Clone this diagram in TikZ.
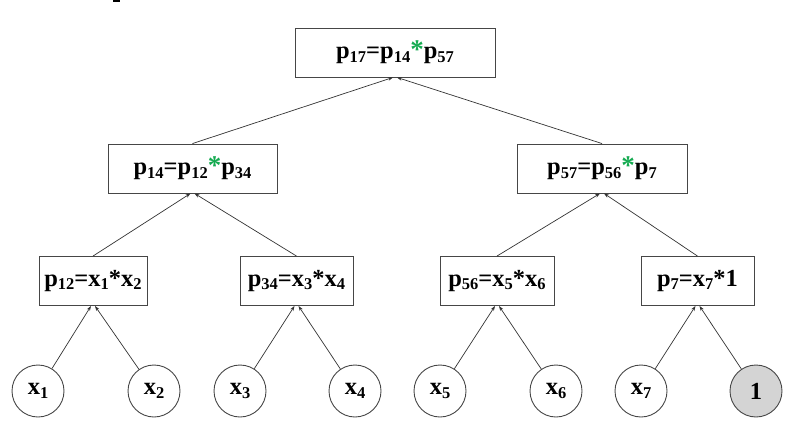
\documentclass[tikz,border=0pt]{standalone}
\usepackage{fontspec}
\setmainfont{Liberation Serif}
\usetikzlibrary{arrows.meta}
\definecolor{stargreen}{RGB}{20,170,80}
\definecolor{leafgray}{RGB}{212,212,212}
\definecolor{edgegray}{RGB}{70,70,70}
\newcommand\sbs[1]{\raisebox{-0.3ex}{\fontsize{16.5}{16.5}\selectfont\bfseries #1}}
\newcommand\gstar{\textcolor{stargreen}{\fontsize{27}{27}\selectfont *}}
\tikzset{
  prodbox/.style={draw=edgegray, line width=0.9pt, minimum height=49pt, inner sep=0pt,
    font=\fontsize{24.5}{28}\selectfont\bfseries},
  leaf/.style={draw=edgegray, line width=0.9pt, circle, minimum size=52pt, inner sep=0pt,
    font=\fontsize{24.5}{28}\selectfont\bfseries},
  link/.style={draw=black!80, line width=0.7pt, -{Stealth[length=5pt,width=3.5pt]}}
}
\begin{document}
\begin{tikzpicture}[x=1pt,y=-1pt]
\useasboundingbox (0,0) rectangle (789,444);
\fill (113,0) rectangle (120,2);
% boxes
\node[prodbox, minimum width=200pt] (p17) at (395,52.5) {p\sbs{17}=p\sbs{14}\gstar p\sbs{57}};
\node[prodbox, minimum width=169pt] (p14) at (192.5,168.5) {p\sbs{14}=p\sbs{12}\gstar p\sbs{34}};
\node[prodbox, minimum width=170pt] (p57) at (602,168.5) {p\sbs{57}=p\sbs{56}\gstar p\sbs{7}};
\node[prodbox, minimum width=108pt] (p12) at (93,281) {p\sbs{12}=x\sbs{1}*x\sbs{2}};
\node[prodbox, minimum width=113pt] (p34) at (296.5,281) {p\sbs{34}=x\sbs{3}*x\sbs{4}};
\node[prodbox, minimum width=114pt] (p56) at (497,281) {p\sbs{56}=x\sbs{5}*x\sbs{6}};
\node[prodbox, minimum width=113pt] (p7) at (697.5,281) {p\sbs{7}=x\sbs{7}*1};
% leaves
\node[leaf] (x1) at (38,391) {x\sbs{1}};
\node[leaf] (x2) at (154,391) {x\sbs{2}};
\node[leaf] (x3) at (240,391) {x\sbs{3}};
\node[leaf] (x4) at (355,391) {x\sbs{4}};
\node[leaf] (x5) at (440,391) {x\sbs{5}};
\node[leaf] (x6) at (556,391) {x\sbs{6}};
\node[leaf] (x7) at (641,391) {x\sbs{7}};
\node[leaf, fill=leafgray] (one) at (756,391) {1};
% connectors
\draw[link] (p14.north) -- ([xshift=-2pt]p17.south);
\draw[link] (p57.north) -- ([xshift=2pt]p17.south);
\draw[link] (p12.north) -- ([xshift=-2pt]p14.south);
\draw[link] (p34.north) -- ([xshift=2pt]p14.south);
\draw[link] (p56.north) -- ([xshift=-2pt]p57.south);
\draw[link] (p7.north) -- ([xshift=2pt]p57.south);
\draw[link] (x1) -- ([xshift=-2pt]p12.south);
\draw[link] (x2) -- ([xshift=2pt]p12.south);
\draw[link] (x3) -- ([xshift=-2pt]p34.south);
\draw[link] (x4) -- ([xshift=2pt]p34.south);
\draw[link] (x5) -- ([xshift=-2pt]p56.south);
\draw[link] (x6) -- ([xshift=2pt]p56.south);
\draw[link] (x7) -- ([xshift=-2pt]p7.south);
\draw[link] (one) -- ([xshift=2pt]p7.south);
\end{tikzpicture}
\end{document}
